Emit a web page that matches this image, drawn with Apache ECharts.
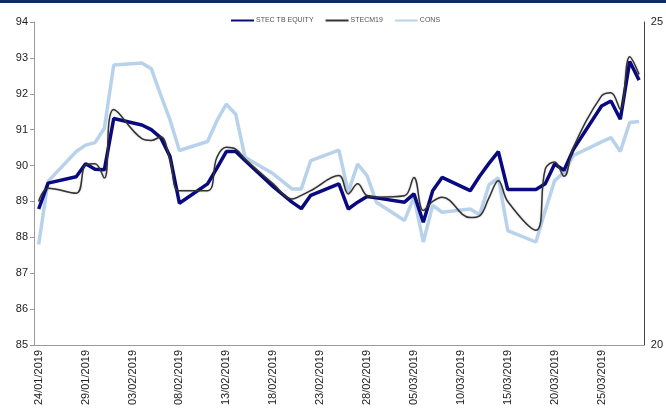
<!DOCTYPE html>
<html>
<head>
<meta charset="utf-8">
<script src="https://cdn.jsdelivr.net/npm/echarts@6/dist/echarts.min.js"></script>
<style>
html,body{margin:0;padding:0;background:#fff;}
#chart{width:666px;height:411px;}
</style>
</head>
<body>
<div id="chart"></div>
<script>
const tradeDates = ['24/01/2019','25/01/2019','28/01/2019','29/01/2019','30/01/2019','31/01/2019','01/02/2019',
'04/02/2019','05/02/2019','06/02/2019','07/02/2019','08/02/2019','11/02/2019','12/02/2019','13/02/2019','14/02/2019','15/02/2019',
'18/02/2019','20/02/2019','21/02/2019','22/02/2019','25/02/2019','26/02/2019','27/02/2019','28/02/2019','01/03/2019',
'04/03/2019','05/03/2019','06/03/2019','07/03/2019','08/03/2019','11/03/2019','12/03/2019','13/03/2019','14/03/2019','15/03/2019',
'18/03/2019','19/03/2019','20/03/2019','21/03/2019','22/03/2019','25/03/2019','26/03/2019','27/03/2019','28/03/2019','29/03/2019'];

const stecTB = [88.79,89.51,89.69,90.05,89.90,89.88,91.31,
91.13,91.00,90.78,90.25,88.95,89.49,89.93,90.39,90.39,90.14,
89.41,88.98,88.80,89.17,89.49,88.79,88.98,89.14,89.10,
88.98,89.21,88.42,89.30,89.67,89.30,89.70,90.06,90.39,89.33,
89.33,89.49,90.04,89.87,90.45,91.66,91.80,91.29,92.90,92.38];

const stecM19 = [89.00,89.37,89.23,90.02,90.05,89.65,91.56,
90.75,90.70,90.80,90.16,89.30,89.30,90.23,90.51,90.46,90.18,
89.49,89.07,89.17,89.30,89.72,89.21,89.49,89.16,89.12,
89.16,89.67,88.75,89.00,89.12,88.55,88.60,89.10,89.58,89.00,
88.20,89.90,90.10,89.70,90.51,91.94,92.03,91.57,93.03,92.54];

const cons = [87.80,89.56,90.39,90.57,90.64,91.04,92.80,
92.86,92.70,91.97,91.27,90.42,90.67,91.25,91.71,91.43,90.23,
89.77,89.35,89.35,90.14,90.43,89.26,90.04,89.72,88.98,
88.47,89.12,87.87,88.89,88.70,88.79,88.63,89.46,89.66,88.19,
87.87,88.75,89.58,89.81,90.28,90.66,90.78,90.39,91.20,91.23];

const leftTicks = {min: 85, max: 94, interval: 1};
const rightTicks = {min: 20, max: 25, interval: 5};

// full calendar-day category axis (Excel date axis style)
function fmt(d){
  const dd = String(d.getUTCDate()).padStart(2,'0');
  const mm = String(d.getUTCMonth()+1).padStart(2,'0');
  return dd + '/' + mm + '/' + d.getUTCFullYear();
}
function parse(s){ const p = s.split('/'); return Date.UTC(+p[2], +p[1]-1, +p[0]); }
const categories = [];
for (let t = parse(tradeDates[0]); t <= parse(tradeDates[tradeDates.length-1]); t += 86400000) {
  categories.push(fmt(new Date(t)));
}
function align(vals){
  const m = {};
  tradeDates.forEach((d,i)=>{ m[d] = vals[i]; });
  return categories.map(c => (c in m) ? m[c] : null);
}

const chart = echarts.init(document.getElementById('chart'), null, {renderer:'canvas'});
const FONT = 'Liberation Sans, Arial, sans-serif';
chart.setOption({
  animation: false,
  backgroundColor: '#ffffff',
  graphic: [{type:'rect', left:0, top:0, shape:{width:666, height:3}, style:{fill:'#0b2d63'}}],
  legend: {
    left: 226, top: 12,
    icon: 'rect', itemWidth: 23, itemHeight: 2, itemGap: 12,
    textStyle: {fontSize: 7, color: '#555', fontFamily: FONT, padding:[0,0,0,-3]},
    data: ['STEC TB EQUITY','STECM19','CONS']
  },
  grid: {left: 34, right: 22, top: 22, bottom: 66},
  xAxis: {
    type: 'category',
    data: categories,
    boundaryGap: true,
    axisLine: {lineStyle: {color: '#9a9a9a', width: 1}},
    axisTick: {show: false},
    axisLabel: {interval: 4, rotate: 90, fontSize: 11, color: '#222', fontFamily: FONT, margin: 5},
    splitLine: {show: false}
  },
  yAxis: [{
    type: 'value', min: leftTicks.min, max: leftTicks.max, interval: leftTicks.interval,
    axisLine: {show: true, lineStyle: {color: '#9a9a9a'}},
    axisTick: {show: true, length: 4, lineStyle: {color: '#9a9a9a'}},
    axisLabel: {fontSize: 11, color: '#222', fontFamily: FONT, margin: 6},
    splitLine: {show: false}
  }, {
    type: 'value', position: 'right', min: rightTicks.min, max: rightTicks.max, interval: rightTicks.interval,
    axisLine: {show: true, lineStyle: {color: '#444'}},
    axisTick: {show: false},
    axisLabel: {fontSize: 11, color: '#222', fontFamily: FONT, margin: 7},
    splitLine: {show: false}
  }],
  series: [{
    name: 'CONS', type: 'line', data: align(cons), connectNulls: true,
    showSymbol: false, symbol: 'none',
    lineStyle: {color: '#b9d2ec', width: 3.5}, itemStyle: {color: '#b9d2ec'}
  }, {
    name: 'STEC TB EQUITY', type: 'line', data: align(stecTB), connectNulls: true,
    showSymbol: false, symbol: 'none',
    lineStyle: {color: '#0a0a80', width: 3.5}, itemStyle: {color: '#0a0a80'}
  }, {
    name: 'STECM19', type: 'line', data: align(stecM19), connectNulls: true, smooth: 0.4,
    showSymbol: false, symbol: 'none',
    lineStyle: {color: '#333333', width: 1.5, shadowColor: 'rgba(0,0,0,0.25)', shadowBlur: 2}, itemStyle: {color: '#333333'}
  }]
});
</script>
</body>
</html>
